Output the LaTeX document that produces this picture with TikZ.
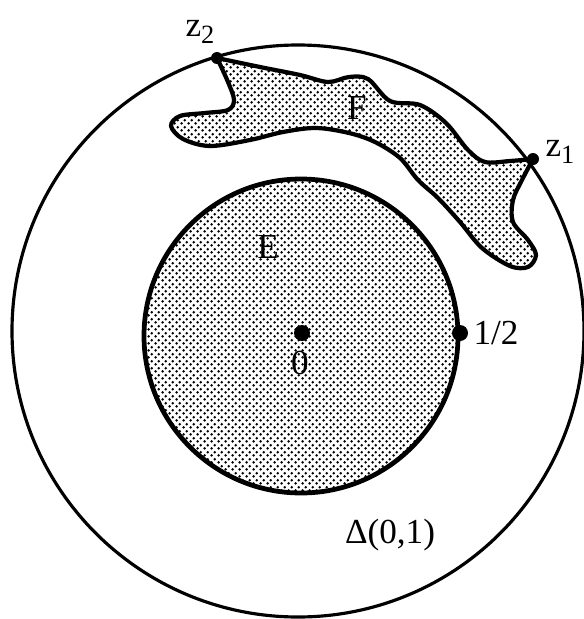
\documentclass[tikz,border=0pt]{standalone}
\usepackage{fontspec}
\setmainfont{Liberation Serif}
\usetikzlibrary{patterns,patterns.meta}

\pgfdeclarepattern{
  name=scandots,
  type=uncolored,
  bottom left={\pgfpoint{0pt}{0pt}},
  top right={\pgfpoint{3.8pt}{3.8pt}},
  tile size={\pgfpoint{3.8pt}{3.8pt}},
  code={
    \pgfpathcircle{\pgfpoint{0.95pt}{0.95pt}}{0.82pt}
    \pgfpathcircle{\pgfpoint{2.85pt}{2.85pt}}{0.82pt}
    \pgfusepath{fill}
  }
}

\newcommand{\zsub}[1]{z\raisebox{-.45ex}{\fontsize{15}{17}\selectfont #1}}

\begin{document}
\begin{tikzpicture}[x=0.02cm,y=-0.02cm,
  lbl/.style={font=\fontsize{20}{24}\selectfont,inner sep=0pt},
  shade/.style={pattern=scandots,pattern color=black}]
  \useasboundingbox (0,0) rectangle (583,619);
  \coordinate (o) at (302,333); % 原点
  \coordinate (half) at (460,333); % 1/2 の点
  \coordinate (z1) at (533,159);
  \coordinate (z2) at (217,58);
  \draw[line width=1.8pt] (298,331) circle [radius=286]; % 単位円板 Δ(0,1)
  \draw[shade,line width=2.7pt] (301,336) circle [radius=157]; % 集合 E
  \draw[shade,line width=2.4pt,line join=round]
    plot[smooth,tension=.55] coordinates {(217,58) (260,67) (300,75) (328,82) (349,77)
      (368,79) (390,101) (420,105) (446,123) (468,150) (485,162) (510,161) (533,159)}
    -- plot[smooth,tension=.55] coordinates {(533,159) (522,180) (513,200) (513,222)
      (528,240) (536,255) (528,267) (510,266) (482,248) (460,222) (438,198) (418,180)
      (400,158) (375,142) (349,133) (316,128) (283,132) (250,140) (210,146) (183,139)
      (171,126) (180,116) (205,113) (228,110) (234,100) (228,82) (217,58)}
    -- cycle; % 集合 F（境界の 2 点 z1, z2 で円周に接する）
  \fill (o) circle [radius=8]; % 中心の点
  \fill (half) circle [radius=8];
  \fill (z1) circle [radius=6];
  \fill (z2) circle [radius=6];
  \node[lbl] (lblo) at (300,363) {0};
  \node[lbl] (lblhalf) at (496,333) {1/2};
  \node[lbl] (lblz1) at (560,152) {\zsub{1}};
  \node[lbl] (lblz2) at (200,32) {\zsub{2}};
  \node[lbl] (lblE) at (268,247) {E};
  \node[lbl] (lblF) at (357,108) {F};
  \node[lbl] (lblD) at (390,535) {Δ(0,1)};
\end{tikzpicture}
\end{document}
